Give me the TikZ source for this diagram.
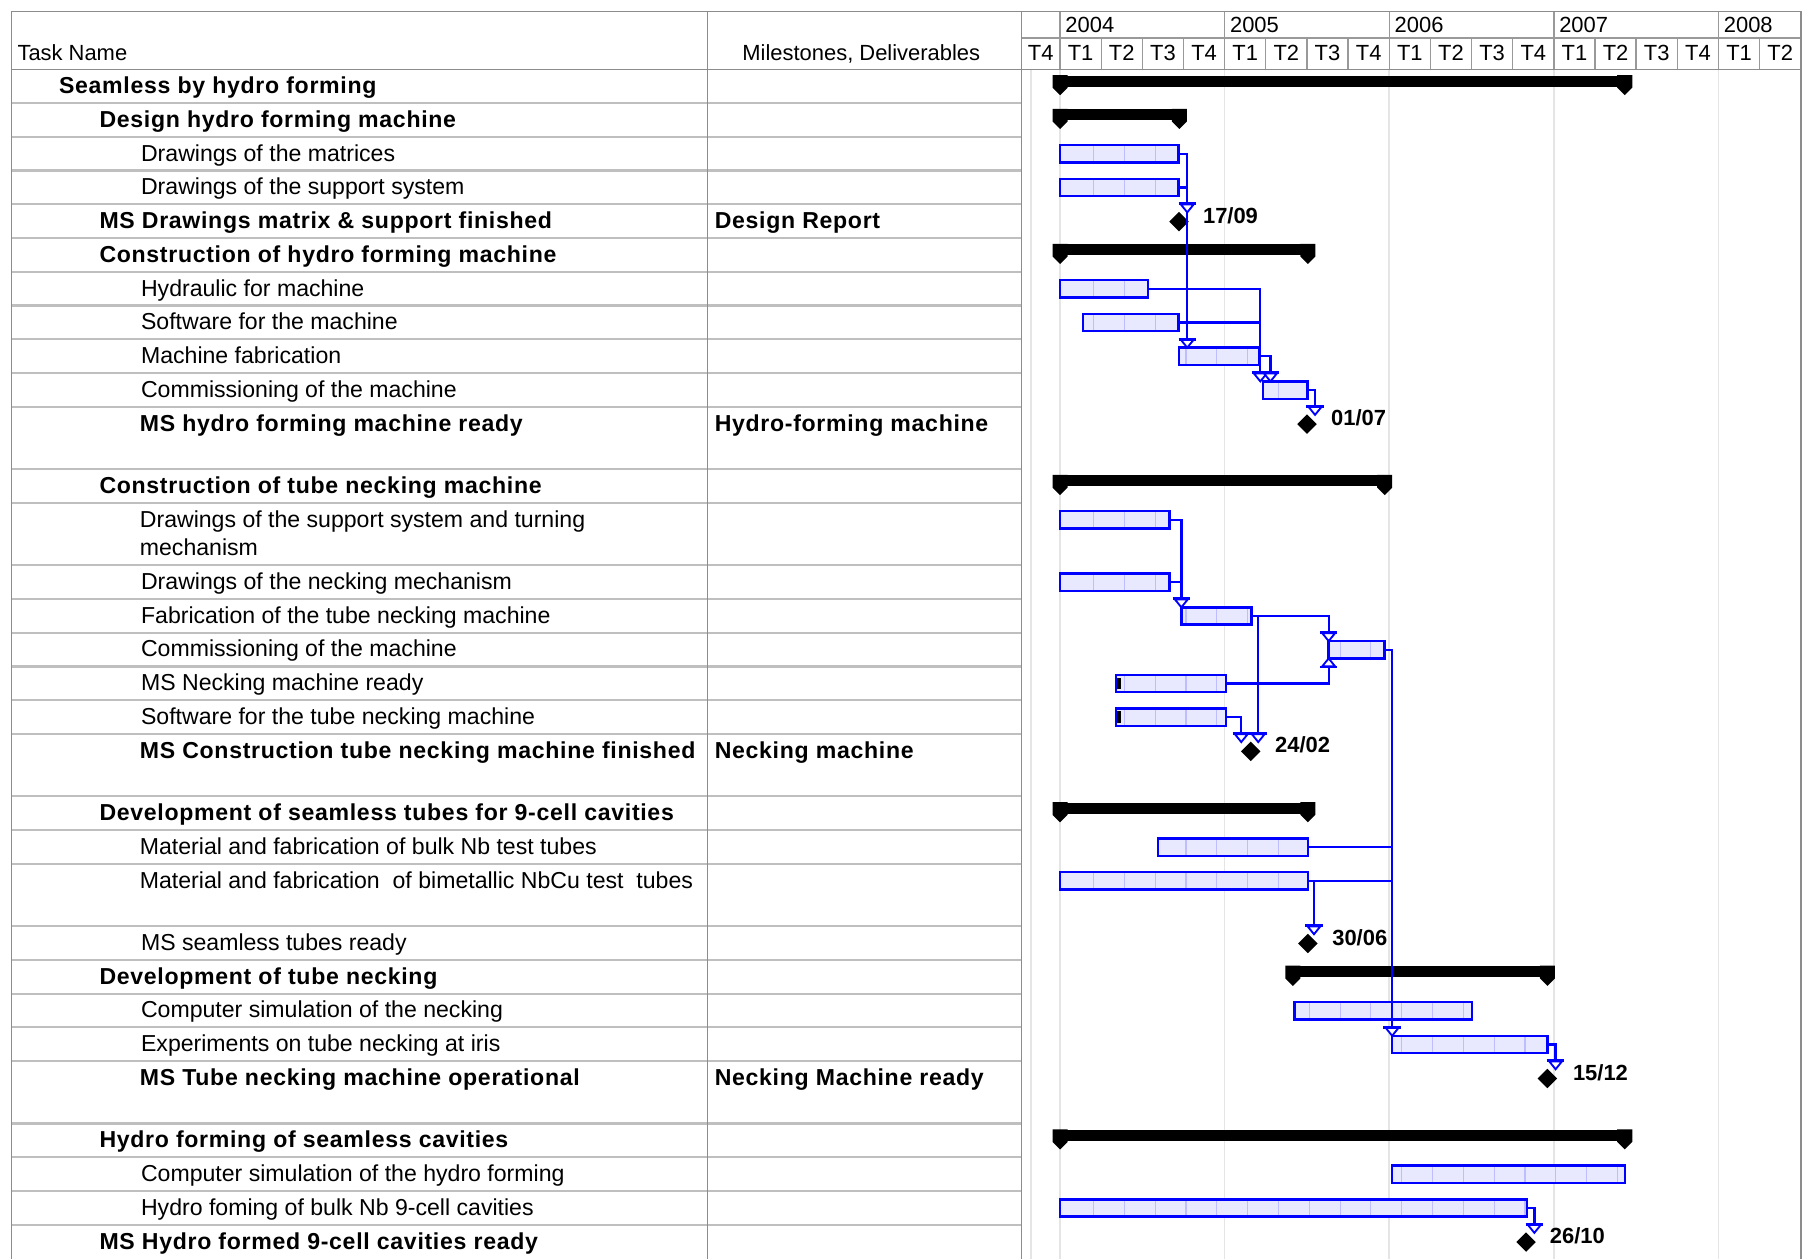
\documentclass[tikz,border=0pt]{standalone}
\usepackage{fontspec}
\setmainfont{Liberation Sans}
\newfontfamily\bsp[LetterSpace=3]{Liberation Sans}
\usetikzlibrary{shapes.geometric}
\definecolor{lnk}{RGB}{0,0,255}
\definecolor{barfill}{RGB}{232,232,255}
\definecolor{inl}{RGB}{190,190,255}
\newcommand\GfN{\fontsize{20}{24}\selectfont}
\newcommand\GfB{\bsp\bfseries\fontsize{20}{24}\selectfont}
\newcommand\GfH{\fontsize{19}{23}\selectfont}
\newcommand\GfD{\bfseries\fontsize{19}{23}\selectfont}
\tikzset{
  frame/.style={draw=black!45,line width=1.3},
  rowline/.style={draw=black!25,line width=1.8},
  hdrline/.style={draw=black!40,line width=1.2},
  yeargrid/.style={draw=black!10,line width=1.4},
  innerline/.style={draw=inl,line width=0.9},
  barbox/.style={rectangle,draw=lnk,line width=2.1,inner sep=0pt,outer sep=0pt,minimum height=15pt},
  link/.style={draw=lnk,line width=2},
  msd/.style={diamond,fill=black,inner sep=0pt,minimum width=17pt,minimum height=17pt},
  tn/.style={inner sep=0pt,anchor=base west,font=\GfN},
  tb/.style={inner sep=0pt,anchor=base west,font=\GfB},
  hd/.style={inner sep=0pt,anchor=base west,font=\GfH},
  qt/.style={inner sep=0pt,anchor=base,font=\GfH},
  dl/.style={inner sep=0pt,anchor=base west,font=\GfD},
  dnarr/.pic={\draw[lnk,line width=1.6,fill=white] (-5.5,-6.8) -- (5.5,-6.8) -- (0,0) -- cycle;
              \draw[lnk,line width=2.4] (-7.5,-7.4) -- (7.5,-7.4);},
  uparr/.pic={\draw[lnk,line width=1.6,fill=white] (-5.5,6.8) -- (5.5,6.8) -- (0,0) -- cycle;
              \draw[lnk,line width=2.4] (-7.5,7.4) -- (7.5,7.4);},
}
% task bar: name, x1, x2, row top
\newcommand{\GBar}[4]{%
  \pgfmathsetmacro\gy{#4+7.25}%
  \begin{scope}
    \clip (#2,\gy) rectangle (#3,\gy+15);
    \fill[barfill] (#2,\gy) rectangle (#3,\gy+15);
    \foreach \k in {0,...,18} \draw[innerline] ({947.3+26.7*\k},\gy) -- ++(0,15);
  \end{scope}
  \node[barbox,minimum width={#3-#2},anchor=north west] (#1) at (#2,\gy) {};
}
% summary bar: name, x1, x2, row top
\newcommand{\GSum}[4]{%
  \fill (#2,#4+5.5) rectangle (#3,#4+15);
  \foreach \cx in {#2,#3}
    \fill (\cx-6.5,#4+5) -- (\cx+6.5,#4+5) -- (\cx+6.5,#4+16) -- (\cx,#4+22.5) -- (\cx-6.5,#4+16) -- cycle;
  \coordinate (#1) at ({(#2+#3)/2},#4+10);
}
\begin{document}
\begin{tikzpicture}[x=1pt,y=-1pt]
\useasboundingbox (0,0) rectangle (1568,1090);
% ---------- grid in chart body
\foreach \gx in {893,918.3,1060.9,1203.5,1346.1,1488.7}
  \draw[yeargrid] (\gx,60) -- (\gx,1090.3);
% ---------- table lines
\foreach \ry in {89.24,118.48,147.72,176.96,206.2,235.44,264.68,293.92,323.16,352.4,406.4,435.64,489.64,518.88,548.12,577.36,606.6,635.84,689.84,719.08,748.32,802.32,831.56,860.8,890.04,919.28,973.28,1002.52,1031.76,1061}
  \draw[rowline] (10,\ry) -- (885,\ry);
\draw[hdrline] (885,33) -- (1560,33);
\foreach \gx in {918.3,1060.9,1203.5,1346.1,1488.7}
  \draw[hdrline] (\gx,10) -- (\gx,33);
\foreach \k in {0,...,17}
  \draw[hdrline] ({918.3+35.65*\k},33) -- ({918.3+35.65*\k},60);
\draw[frame] (10,60) -- (1560,60);
\draw[frame] (613,10) -- (613,1090.3);
\draw[frame] (885,10) -- (885,1090.3);
\draw[frame] (10,1090.3) -- (10,10) -- (1560,10) -- (1560,1090.3);
% ---------- header texts
\node[hd] (hTask) at (15,52) {Task Name};
\node[hd] (hMil) at (643,52) {Milestones, Deliverables};
\foreach \yl/\gx in {2004/918.3,2005/1060.9,2006/1203.5,2007/1346.1,2008/1488.7}
  \node[hd] (y\yl) at (\gx+4.5,28.5) {\yl};
\node[qt] (q0) at (901.6,52) {T4};
\foreach \lab [count=\i from 1] in {T1,T2,T3,T4,T1,T2,T3,T4,T1,T2,T3,T4,T1,T2,T3,T4,T1,T2}
  \node[qt] (q\i) at ({918.3+35.65*(\i-0.5)},52) {\lab};
% ---------- task names
\node[tb] (t1)  at (51,81)      {Seamless by hydro forming};
\node[tb] (t2)  at (86,110.24)  {Design hydro forming machine};
\node[tn] (t3)  at (122,139.48) {Drawings of the matrices};
\node[tn] (t4)  at (122,168.72) {Drawings of the support system};
\node[tb] (t5)  at (86,197.96)  {MS Drawings matrix \& support finished};
\node[tb] (t6)  at (86,227.2)   {Construction of  hydro forming machine};
\node[tn] (t7)  at (122,256.44) {Hydraulic for machine};
\node[tn] (t8)  at (122,285.68) {Software for the machine};
\node[tn] (t9)  at (122,314.92) {Machine fabrication};
\node[tn] (t10) at (122,344.16) {Commissioning of the machine};
\node[tb] (t11) at (121,373.4)  {MS hydro forming machine ready};
\node[tb] (t12) at (86,427.4)   {Construction of tube necking machine};
\node[tn] (t13) at (121,456.64) {Drawings of the support system and turning};
\node[tn] (t13b) at (121,481.64) {mechanism};
\node[tn] (t14) at (122,510.64) {Drawings of the necking mechanism};
\node[tn] (t15) at (122,539.88) {Fabrication of the tube necking machine};
\node[tn] (t16) at (122,569.12) {Commissioning of the machine};
\node[tn] (t17) at (122,598.36) {MS Necking machine ready};
\node[tn] (t18) at (122,627.6)  {Software for the tube necking machine};
\node[tb] (t19) at (121,656.84) {MS Construction tube necking machine finished};
\node[tb] (t20) at (86,710.84)  {Development of seamless tubes for 9-cell cavities};
\node[tn] (t21) at (121,740.08) {Material and fabrication of bulk Nb test tubes};
\node[tn] (t22) at (121,769.32) {Material and fabrication\ \ of bimetallic NbCu test\ \ tubes};
\node[tn] (t23) at (122,823.32) {MS seamless tubes ready};
\node[tb] (t24) at (86,852.56)  {Development of tube necking};
\node[tn] (t25) at (122,881.8)  {Computer simulation of the necking};
\node[tn] (t26) at (122,911.04) {Experiments on tube necking at iris};
\node[tb] (t27) at (121,940.28) {MS Tube necking machine operational};
\node[tb] (t28) at (86,994.28)  {Hydro forming of seamless cavities};
\node[tn] (t29) at (122,1023.52) {Computer simulation of the hydro forming};
\node[tn] (t30) at (122,1052.76) {Hydro foming of bulk Nb 9-cell cavities};
\node[tb] (t31) at (86,1082)    {MS Hydro formed 9-cell cavities ready};
% ---------- milestones / deliverables column
\node[tb] (d5)  at (619,197.96) {Design Report};
\node[tb] (d11) at (619,373.4)  {Hydro-forming machine};
\node[tb] (d19) at (619,656.84) {Necking machine};
\node[tb] (d27) at (619,940.28) {Necking Machine ready};
% ---------- summary bars
\GSum{s1}{918.3}{1407.5}{60}
\GSum{s2}{918.3}{1021.7}{89.24}
\GSum{s6}{918.3}{1133}{206.2}
\GSum{s12}{918.3}{1199.5}{406.4}
\GSum{s20}{918.3}{1133}{689.84}
\GSum{s24}{1120}{1340.5}{831.56}
\GSum{s28}{918.3}{1407.5}{973.28}
% ---------- task bars
\GBar{b3}{918.3}{1020.8}{118.48}
\GBar{b4}{918.3}{1020.8}{147.72}
\GBar{b7}{918.3}{994.5}{235.44}
\GBar{b8}{938}{1020.8}{264.68}
\GBar{b9}{1021.5}{1091}{293.92}
\GBar{b10}{1093.9}{1132.6}{323.16}
\GBar{b13}{918.5}{1013.2}{435.64}
\GBar{b14}{918.5}{1013.2}{489.64}
\GBar{b15}{1023.4}{1084}{518.88}
\GBar{b16}{1151}{1199.5}{548.12}
\GBar{b17}{966.6}{1062}{577.36}
\GBar{b18}{966.6}{1062}{606.6}
\GBar{b21}{1003.2}{1133}{719.08}
\GBar{b22}{918.3}{1133}{748.32}
\GBar{b25}{1121.3}{1275.4}{860.8}
\GBar{b26}{1206}{1340.5}{890.04}
\GBar{b29}{1206}{1407.5}{1002.52}
\GBar{b30}{918.3}{1323}{1031.76}
\fill ([xshift=1pt]b17.west) ++(0,-5) rectangle ++(3.8,10);
\fill ([xshift=1pt]b18.west) ++(0,-5) rectangle ++(3.8,10);
% ---------- milestones
\node[msd] (m5)  at (1021.4,191.96) {};
\node[msd] (m11) at (1132.3,367.4) {};
\node[msd] (m19) at (1083.5,650.84) {};
\node[msd] (m23) at (1133,817.32) {};
\node[msd] (m27) at (1340.5,934.28) {};
\node[msd] (m31) at (1322,1076) {};
% ---------- arrow ends
\coordinate (a5)   at (1028.5,183.96);
\coordinate (a9)   at (1028.5,301.17);
\coordinate (a10a) at (1091.8,330.41);
\coordinate (a10b) at (1100.6,330.41);
\coordinate (a11)  at (1139.2,359.4);
\coordinate (a15)  at (1023.4,526.13);
\coordinate (a16)  at (1151,555.37);
\coordinate (a16u) at (1151,570.37);
\coordinate (a19a) at (1075.3,642.84);
\coordinate (a19b) at (1090,642.84);
\coordinate (a23)  at (1138.3,809.32);
\coordinate (a26)  at (1206,897.29);
\coordinate (a27)  at (1347.6,926.28);
\coordinate (a31)  at (1329.2,1068);
% ---------- connectors
\draw[link] (b3.east) -| ([yshift=8pt]a9);
\draw[link] (b4.east) -- (b4.east -| a9);
\draw[link] (b7.east) -| ([yshift=8pt]a10a);
\draw[link] (b8.east) -- (b8.east -| a10a);
\draw[link] (b9.east) -| ([yshift=8pt]a10b);
\draw[link] (b10.east) -| ([yshift=8pt]a11);
\draw[link] (b13.east) -| ([yshift=8pt]a15);
\draw[link] (b14.east) -- (b14.east -| a15);
\draw[link] (b15.east) -| ([yshift=8pt]a16);
\draw[link] (b15.east -| a19b) -- ([yshift=8pt]a19b);
\draw[link] (b17.east) -| ([yshift=-8pt]a16u);
\draw[link] (b18.east) -| ([yshift=8pt]a19a);
\draw[link] (b16.east) -| ([yshift=8pt]a26);
\draw[link] (b21.east) -- (b21.east -| a26);
\draw[link] (b22.east) -- (b22.east -| a26);
\draw[link] (b22.east) -| ([yshift=8pt]a23);
\draw[link] (b26.east) -| ([yshift=8pt]a27);
\draw[link] (b30.east) -| ([yshift=8pt]a31);
\foreach \ap in {a5,a9,a10a,a10b,a11,a15,a16,a19a,a19b,a23,a26,a27,a31}
  \pic at (\ap) {dnarr};
\pic at (a16u) {uparr};
% ---------- date labels
\node[dl] (l5)  at (1042,193.5)  {17/09};
\node[dl] (l11) at (1153,368.9)  {01/07};
\node[dl] (l19) at (1104.5,652.3) {24/02};
\node[dl] (l23) at (1154,818.8)  {30/06};
\node[dl] (l27) at (1362.5,935.8) {15/12};
\node[dl] (l31) at (1342.5,1077.5) {26/10};
\end{tikzpicture}
\end{document}
